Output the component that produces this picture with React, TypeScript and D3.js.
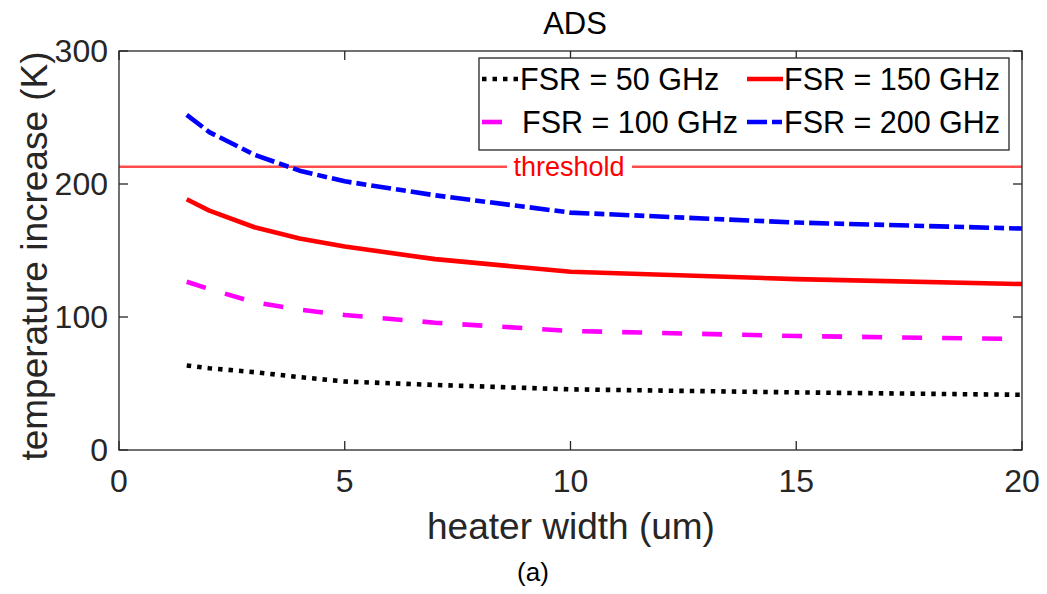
import React from "react";
import * as d3 from "d3";

const widths = [1.5, 2, 3, 4, 5, 7, 10, 15, 20];
const fsr50 = [63.5, 61.5, 58.5, 54.8, 51.5, 48.9, 45.6, 43.3, 41.5];
const fsr100 = [126.5, 121, 111, 105.5, 101.5, 95.7, 89.5, 85.7, 83.4];
const fsr150 = [188.5, 180, 167.5, 159, 153, 143.5, 134, 128.5, 124.8];
const fsr200 = [252, 239, 222, 210, 202, 191.5, 178.5, 171, 166.5];
const threshold = 213;
const xTicks = [0, 5, 10, 15, 20];
const yTicks = [0, 100, 200, 300];
const seriesNames = ["FSR = 50 GHz", "FSR = 100 GHz", "FSR = 150 GHz", "FSR = 200 GHz"];

const W = 1047, H = 594;
const L = 119, R = 1022, T = 51, B = 450;
const FONT = "'Liberation Sans', Arial, sans-serif";
const AX = "#262626";

export default function App() {
  const x = d3.scaleLinear().domain([0, 20]).range([L, R]);
  const y = d3.scaleLinear().domain([0, 300]).range([B, T]);
  const line = d3.line<[number, number]>().x(d => x(d[0])).y(d => y(d[1]));
  const series = [
    { name: seriesNames[0], vals: fsr50, color: "#000000", dash: "4.5,6" },
    { name: seriesNames[1], vals: fsr100, color: "#ff00ff", dash: "20,20" },
    { name: seriesNames[2], vals: fsr150, color: "#ff0000", dash: "none" },
    { name: seriesNames[3], vals: fsr200, color: "#0000ff", dash: "20,5,10,5" },
  ];
  const ty = y(threshold);
  const tk = 9;
  const legendPos = [
    { lx: 482, tx: 520, cy: 79 },
    { lx: 482, tx: 522, cy: 122 },
    { lx: 747, tx: 784, cy: 79 },
    { lx: 747, tx: 784, cy: 122 },
  ];
  return (
    <svg width={W} height={H} style={{ position: "absolute", left: 0, top: 0, background: "#fff" }} fontFamily={FONT}>
      <rect x={0} y={0} width={W} height={H} fill="#fff" />
      <line x1={L} x2={507} y1={ty} y2={ty} stroke="#ff4d4d" strokeWidth={2.6} />
      <line x1={632} x2={R} y1={ty} y2={ty} stroke="#ff4d4d" strokeWidth={2.6} />
      <text x={569} y={ty + 9.5} fontSize={27} fill="#ff0000" textAnchor="middle">threshold</text>
      {series.map((s, i) => (
        <path key={i} d={line(widths.map((w, j) => [w, s.vals[j]] as [number, number])) || ""}
          fill="none" stroke={s.color} strokeWidth={4.6} strokeDasharray={s.dash} strokeLinejoin="round" />
      ))}
      <rect x={L} y={T} width={R - L} height={B - T} fill="none" stroke={AX} strokeWidth={1.3} />
      {xTicks.map(t => (
        <g key={"x" + t}>
          <line x1={x(t)} x2={x(t)} y1={B} y2={B - tk} stroke={AX} strokeWidth={1.3} />
          <line x1={x(t)} x2={x(t)} y1={T} y2={T + tk} stroke={AX} strokeWidth={1.3} />
          <text x={x(t)} y={492} fontSize={32} fill={AX} textAnchor="middle">{t}</text>
        </g>
      ))}
      {yTicks.map(t => (
        <g key={"y" + t}>
          <line x1={L} x2={L + tk} y1={y(t)} y2={y(t)} stroke={AX} strokeWidth={1.3} />
          <line x1={R} x2={R - tk} y1={y(t)} y2={y(t)} stroke={AX} strokeWidth={1.3} />
          <text x={108} y={y(t) + 11} fontSize={32} fill={AX} textAnchor="end">{t}</text>
        </g>
      ))}
      <text x={571} y={539} fontSize={37} fill={AX} textAnchor="middle">heater width (um)</text>
      <text transform={`translate(47, 256) rotate(-90)`} fontSize={37} fill={AX} textAnchor="middle">temperature increase (K)</text>
      <text x={575} y={34} fontSize={31} fill="#000" textAnchor="middle">ADS</text>
      <text x={533} y={581} fontSize={26} fill="#000" textAnchor="middle">(a)</text>
      <rect x={479} y={58} width={530} height={92} fill="#fff" stroke={AX} strokeWidth={1.3} />
      {series.map((s, i) => {
        const p = legendPos[i];
        return (
          <g key={"lg" + i}>
            <line x1={p.lx} x2={p.lx + 36} y1={p.cy} y2={p.cy} stroke={s.color} strokeWidth={4.6} strokeDasharray={s.dash} />
            <text x={p.tx} y={p.cy + 11} fontSize={30.5} fill="#000">{s.name}</text>
          </g>
        );
      })}
    </svg>
  );
}
